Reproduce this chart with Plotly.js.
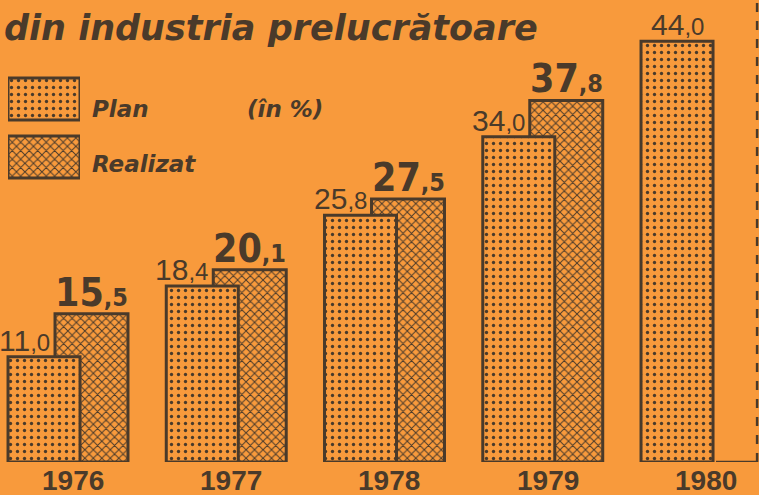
<!DOCTYPE html>
<html><head><meta charset="utf-8">
<script src="https://cdn.plot.ly/plotly-3.0.1.min.js"></script>
<style>html,body{margin:0;padding:0;background:#F89A3C;}</style>
</head><body><div id="chart" style="width:759px;height:495px;"></div>
<script>
// ---- data ----
const years = ['1976', '1977', '1978', '1979', '1980'];
const plan = [11.0, 18.4, 25.8, 34.0, 44.0];
const realizat = [15.5, 20.1, 27.5, 37.8, null];
const seriesNames = ['Plan', 'Realizat'];
const titleText = 'din industria prelucrătoare';
const unitText = '(în %)';

// ---- style ----
const ORANGE = '#F89A3C';
const DARK = '#4A3A2A';
const PLAN_OFF = -0.379, PLAN_W = 0.455;
const REAL_OFF = -0.082, REAL_W = 0.461;
const planPattern = {shape: '.', size: 7, solidity: 0.18, fgcolor: DARK, fgopacity: 1, fillmode: 'overlay'};
const realPattern = {shape: 'x', size: 6, solidity: 0.3, fgcolor: DARK, fgopacity: 1, fillmode: 'overlay'};
const outline = {color: DARK, width: 3};

const idx = years.map((_, i) => i);
const rIdx = idx.filter(i => realizat[i] !== null);
const split = v => v.toFixed(1).split('.');

const traces = [
  {type: 'bar', name: seriesNames[1], x: rIdx, y: rIdx.map(i => realizat[i]),
   offset: REAL_OFF, width: REAL_W,
   marker: {color: ORANGE, line: outline, pattern: realPattern}, hoverinfo: 'skip', showlegend: false},
  {type: 'bar', name: seriesNames[0], x: idx, y: plan,
   offset: PLAN_OFF, width: PLAN_W,
   marker: {color: ORANGE, line: outline, pattern: planPattern}, hoverinfo: 'skip', showlegend: false},
  // legend swatches
  {type: 'bar', orientation: 'h', x: [1], y: [1], width: 0.72, xaxis: 'x2', yaxis: 'y2',
   marker: {color: ORANGE, line: outline, pattern: planPattern}, hoverinfo: 'skip', showlegend: false},
  {type: 'bar', orientation: 'h', x: [1], y: [0], width: 0.72, xaxis: 'x2', yaxis: 'y2',
   marker: {color: ORANGE, line: outline, pattern: realPattern}, hoverinfo: 'skip', showlegend: false}
];

const annotations = [];
// title
annotations.push({xref: 'paper', yref: 'paper', x: 0.002, y: 0.94, xanchor: 'left', yanchor: 'middle',
  text: '<b><i>' + titleText + '</i></b>', showarrow: false,
  font: {family: 'DejaVu Sans, sans-serif', size: 35, color: DARK}});
// legend labels
annotations.push({xref: 'paper', yref: 'paper', x: 90/759, y: 1 - 109/462, xanchor: 'left', yanchor: 'middle',
  text: '<b><i>' + seriesNames[0] + '</i></b>', showarrow: false,
  font: {family: 'DejaVu Sans, sans-serif', size: 23, color: DARK}});
annotations.push({xref: 'paper', yref: 'paper', x: 90/759, y: 1 - 164/462, xanchor: 'left', yanchor: 'middle',
  text: '<b><i>' + seriesNames[1] + '</i></b>', showarrow: false,
  font: {family: 'DejaVu Sans, sans-serif', size: 23, color: DARK}});
annotations.push({xref: 'paper', yref: 'paper', x: 245/759, y: 1 - 109/462, xanchor: 'left', yanchor: 'middle',
  text: '<b><i>' + unitText + '</i></b>', showarrow: false,
  font: {family: 'DejaVu Sans, sans-serif', size: 23, color: DARK}});
// year labels (category axis labels)
idx.forEach(i => {
  annotations.push({xref: 'x', yref: 'y', x: i + 0.03, y: 0, xanchor: 'center', yanchor: 'top', yshift: -1,
    text: '<b>' + years[i] + '</b>', showarrow: false,
    font: {family: 'Liberation Sans, Arial, sans-serif', size: 28, color: DARK}});
});
// value labels
idx.forEach(i => {
  const [a, b] = split(plan[i]);
  const hasR = realizat[i] !== null;
  annotations.push({xref: 'x', yref: 'y', x: hasR ? i + REAL_OFF : i + PLAN_OFF + PLAN_W / 2,
    xanchor: hasR ? 'right' : 'center', xshift: hasR ? -3 : 0, y: plan[i], yanchor: 'bottom', yshift: -2,
    text: a + '<span style="font-size:24px;font-weight:300">,' + b + '</span>', showarrow: false,
    font: {family: 'Liberation Sans, Arial, sans-serif', size: 30, color: DARK}});
});
rIdx.forEach(i => {
  const [a, b] = split(realizat[i]);
  annotations.push({xref: 'x', yref: 'y', x: i + REAL_OFF + REAL_W / 2, xanchor: 'center',
    y: realizat[i], yanchor: 'bottom', yshift: -3,
    text: '<b>' + a + '<span style="font-size:25px">,' + b + '</span></b>', showarrow: false,
    font: {family: 'Liberation Sans Narrow, DejaVu Sans Condensed, sans-serif', size: 39, color: DARK}});
});

const layout = {
  width: 759, height: 495,
  margin: {l: 0, r: 0, t: 0, b: 33, autoexpand: false},
  paper_bgcolor: ORANGE, plot_bgcolor: ORANGE,
  barmode: 'overlay', showlegend: false,
  xaxis: {range: [-0.4297, 4.3665], showgrid: false, zeroline: false, showline: false,
    showticklabels: false, ticks: '', automargin: false},
  yaxis: {range: [0, 48.3], visible: false, fixedrange: true},
  xaxis2: {domain: [8/759, 80/759], range: [0, 1], visible: false, anchor: 'y2'},
  yaxis2: {domain: [1 - 190/462, 1 - 70/462], range: [-0.569, 1.5], visible: false, anchor: 'x2'},
  annotations: annotations,
  shapes: [
    {type: 'line', xref: 'paper', yref: 'paper', x0: 0.9975, x1: 0.9975, y0: 0, y1: 1,
     line: {color: DARK, width: 2.5, dash: 'dash'}},
    {type: 'line', xref: 'paper', yref: 'y', x0: 716/759, x1: 0.9975, y0: 0, y1: 0,
     line: {color: DARK, width: 2.5}}
  ]
};

Plotly.newPlot('chart', traces, layout, {staticPlot: true, displayModeBar: false});
</script>
</body></html>
